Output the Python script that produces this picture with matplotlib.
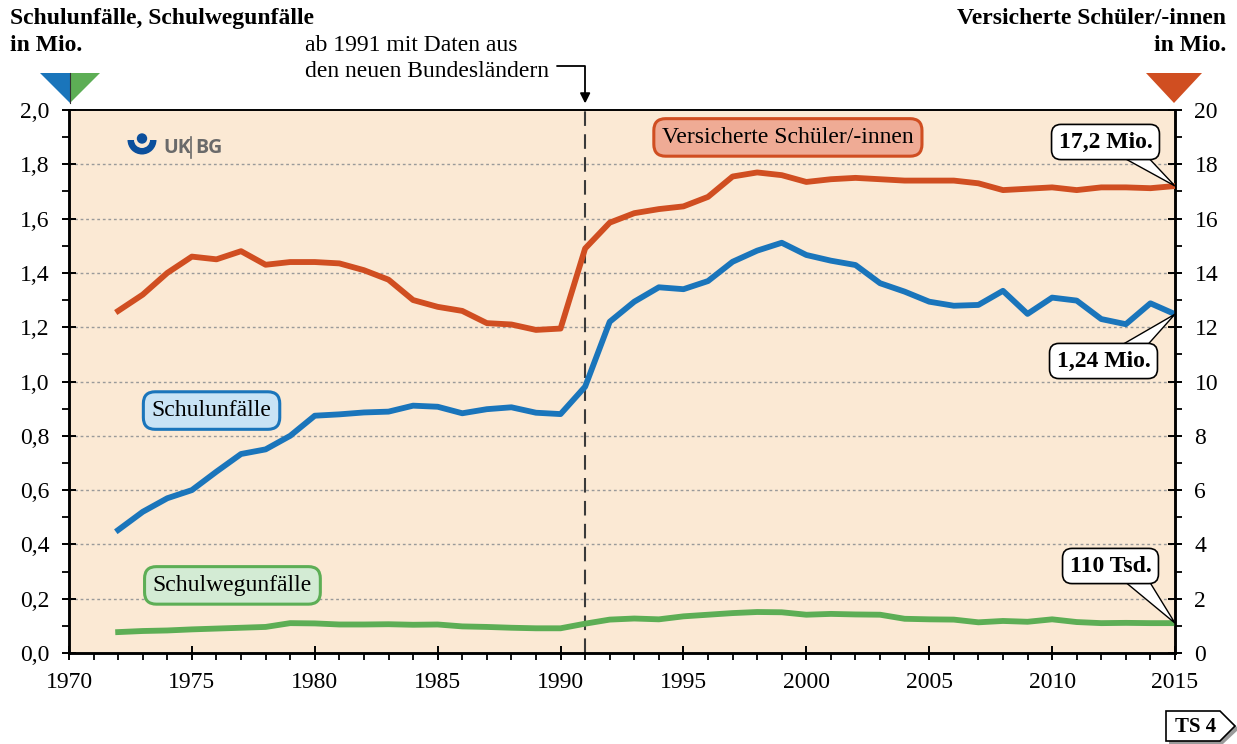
import matplotlib
matplotlib.use('Agg')
import matplotlib.pyplot as plt
from matplotlib.patches import Polygon, Circle, Wedge
from matplotlib.lines import Line2D
from matplotlib.ticker import MultipleLocator, FixedLocator, FixedFormatter

plt.rcParams['font.family'] = ['Liberation Serif', 'DejaVu Serif']

years = list(range(1972, 2016))
schulunfaelle = [0.453, 0.52, 0.57, 0.60, 0.668, 0.733, 0.75, 0.80, 0.874, 0.879,
                 0.886, 0.889, 0.911, 0.907, 0.883, 0.898, 0.905, 0.885, 0.880, 0.981,
                 1.22, 1.294, 1.347, 1.34, 1.37, 1.441, 1.482, 1.511, 1.466, 1.445,
                 1.429, 1.362, 1.331, 1.294, 1.279, 1.282, 1.334, 1.249, 1.309, 1.298,
                 1.230, 1.211, 1.288, 1.248]
schulwegunfaelle = [0.077, 0.081, 0.083, 0.087, 0.090, 0.093, 0.096, 0.110, 0.109, 0.105,
                    0.105, 0.106, 0.104, 0.105, 0.098, 0.096, 0.093, 0.091, 0.091, 0.108,
                    0.123, 0.127, 0.124, 0.135, 0.141, 0.147, 0.151, 0.150, 0.141, 0.144,
                    0.142, 0.141, 0.126, 0.124, 0.123, 0.113, 0.118, 0.115, 0.124, 0.114,
                    0.110, 0.111, 0.110, 0.110]
versicherte = [12.6, 13.2, 14.0, 14.6, 14.5, 14.8, 14.3, 14.4, 14.4, 14.35,
               14.1, 13.75, 13.0, 12.75, 12.6, 12.15, 12.1, 11.9, 11.95, 14.9,
               15.85, 16.2, 16.35, 16.45, 16.8, 17.55, 17.7, 17.6, 17.35, 17.45,
               17.5, 17.45, 17.4, 17.4, 17.4, 17.3, 17.05, 17.1, 17.15, 17.05,
               17.15, 17.15, 17.12, 17.2]

left_ticks = [0.0, 0.2, 0.4, 0.6, 0.8, 1.0, 1.2, 1.4, 1.6, 1.8, 2.0]
left_labels = ['0,0', '0,2', '0,4', '0,6', '0,8', '1,0', '1,2', '1,4', '1,6', '1,8', '2,0']
right_ticks = [0, 2, 4, 6, 8, 10, 12, 14, 16, 18, 20]
right_labels = ['0', '2', '4', '6', '8', '10', '12', '14', '16', '18', '20']
x_ticks = [1970, 1975, 1980, 1985, 1990, 1995, 2000, 2005, 2010, 2015]

C_RED = '#D04E21'
C_BLUE = '#1A75BB'
C_GREEN = '#5DAE55'
BG = '#FBE9D4'

W, H = 1237, 744
fig = plt.figure(figsize=(W / 100, H / 100), dpi=100)
ax = fig.add_axes([69 / W, 1 - 653 / H, (1175 - 69) / W, (653 - 110) / H])
ax.set_facecolor(BG)
ax.set_xlim(1970, 2015)
ax.set_ylim(0, 2.0)

ax2 = ax.twinx()
ax2.set_ylim(0, 20)

# grid
for v in left_ticks[1:-1]:
    ax.axhline(v, color='#9a9a9a', lw=1.0, ls=(0, (2, 2)), zorder=1)

# dashed 1991 line
ax.axvline(1991, color='#3a3a3a', lw=1.5, ls=(0, (7, 4)), zorder=2)

ax.plot(years, schulunfaelle, color=C_BLUE, lw=4.2, zorder=3)
ax.plot(years, schulwegunfaelle, color=C_GREEN, lw=4.2, zorder=3)
ax2.plot(years, versicherte, color=C_RED, lw=4.2, zorder=3)

# ticks
ax.yaxis.set_major_locator(FixedLocator(left_ticks))
ax.yaxis.set_major_formatter(FixedFormatter(left_labels))
ax.yaxis.set_minor_locator(MultipleLocator(0.1))
ax2.yaxis.set_major_locator(FixedLocator(right_ticks))
ax2.yaxis.set_major_formatter(FixedFormatter(right_labels))
ax2.yaxis.set_minor_locator(MultipleLocator(1))
ax.xaxis.set_major_locator(FixedLocator(x_ticks))
ax.xaxis.set_minor_locator(MultipleLocator(1))

for a in (ax, ax2):
    a.tick_params(which='major', direction='inout', length=10, width=1.4, labelsize=17, pad=9)
    a.tick_params(which='minor', direction='out', length=5, width=1.3)
    for s in ('left', 'right', 'bottom'):
        a.spines[s].set_linewidth(1.8)
    a.spines['top'].set_linewidth(1.2)
ax.tick_params(axis='x', which='major', pad=9)

# series labels
ax.text(1999.25, 1.899, 'Versicherte Schüler/-innen', fontsize=17, ha='center', va='center',
        bbox=dict(boxstyle='round,pad=0.35,rounding_size=0.5', fc='#EFAB95', ec=C_RED, lw=2.2), zorder=6)
ax.text(1975.8, 0.893, 'Schulunfälle', fontsize=17, ha='center', va='center',
        bbox=dict(boxstyle='round,pad=0.35,rounding_size=0.5', fc='#C8E3F5', ec=C_BLUE, lw=2.2), zorder=6)
ax.text(1976.65, 0.249, 'Schulwegunfälle', fontsize=17, ha='center', va='center',
        bbox=dict(boxstyle='round,pad=0.35,rounding_size=0.5', fc='#D3EBD4', ec=C_GREEN, lw=2.2), zorder=6)

# overlay in pixel coordinates for decorations
ov = fig.add_axes([0, 0, 1, 1], zorder=20)
ov.set_xlim(0, W)
ov.set_ylim(H, 0)
ov.axis('off')
ov.patch.set_visible(False)


def to_px(axis, x, y):
    dx, dy = axis.transData.transform((x, y))
    return dx, H - dy


# callouts: pointer triangle + rounded box
def callout(text, center, base, tip):
    ov.add_patch(Polygon([base[0], base[1], tip], closed=True, fc='white', ec='black', lw=1.0,
                         joinstyle='miter', zorder=5))
    ov.text(center[0], center[1], text, fontsize=17, fontweight='bold', ha='center', va='center',
            zorder=6, bbox=dict(boxstyle='round,pad=0.3,rounding_size=0.4', fc='white', ec='black', lw=1.2))


callout('17,2 Mio.', (1105.5, 142), [(1113, 152), (1143, 152)], to_px(ax2, 2015, versicherte[-1]))
callout('1,24 Mio.', (1103.5, 361), [(1113, 350), (1143, 350)], to_px(ax, 2015, schulunfaelle[-1]))
callout('110 Tsd.', (1110.5, 566), [(1118, 576), (1146, 576)], to_px(ax, 2015, schulwegunfaelle[-1]))

# titles
ov.text(10, 8, 'Schulunfälle, Schulwegunfälle\nin Mio.', fontsize=17, fontweight='bold',
        ha='left', va='top', linespacing=1.35)
ov.text(1226, 8, 'Versicherte Schüler/-innen\nin Mio.', fontsize=17, fontweight='bold',
        ha='right', va='top', multialignment='right', linespacing=1.35)

# triangles
ov.add_patch(Polygon([(40, 73), (70, 73), (70, 103)], closed=True, fc=C_BLUE, ec='none'))
ov.add_patch(Polygon([(70, 73), (100, 73), (70, 103)], closed=True, fc=C_GREEN, ec='none'))
ov.add_line(Line2D([70, 70], [73, 103], color='#333333', lw=0.8))
ov.add_patch(Polygon([(1146, 73), (1202, 73), (1174, 103)], closed=True, fc=C_RED, ec='none'))

# 1991 note
ov.text(305, 35, 'ab 1991 mit Daten aus\nden neuen Bundesländern', fontsize=17, ha='left', va='top',
        linespacing=1.3)
ax.annotate('', xy=(1991, 1.012), xycoords=('data', 'axes fraction'),
            xytext=(557, H - 66), textcoords='figure pixels', annotation_clip=False,
            arrowprops=dict(arrowstyle='-|>,head_length=0.6,head_width=0.3', color='black', lw=1.3,
                            connectionstyle='angle,angleA=0,angleB=90,rad=0', shrinkA=0, shrinkB=0))

# logo
ov.add_patch(Wedge((142, 140), 14.5, 0, 180, width=6.5, fc='#0B4F9C', ec='none'))
ov.add_patch(Circle((142, 138.5), 5.2, fc='#0B4F9C', ec='none'))
ov.text(163, 148, 'UK', fontsize=14, fontweight='bold', color='#6a6a6a', family='Open Sans',
        ha='left', va='center')
ov.add_line(Line2D([191, 191], [137, 158], color='#6a6a6a', lw=1.2))
ov.text(195, 148, 'BG', fontsize=14, fontweight='bold', color='#6a6a6a', family='Open Sans',
        ha='left', va='center')

# TS 4 tab
ov.add_patch(Polygon([(1169, 714), (1223, 714), (1239, 729), (1223, 744), (1169, 744)], closed=True,
                     fc='#9a9a9a', ec='none'))
ov.add_patch(Polygon([(1166, 711), (1220, 711), (1235, 726), (1220, 741), (1166, 741)], closed=True,
                     fc='white', ec='black', lw=1.2))
ov.text(1196, 727, 'TS 4', fontsize=15, fontweight='bold', ha='center', va='center')

fig.savefig('out.png', dpi=100)
